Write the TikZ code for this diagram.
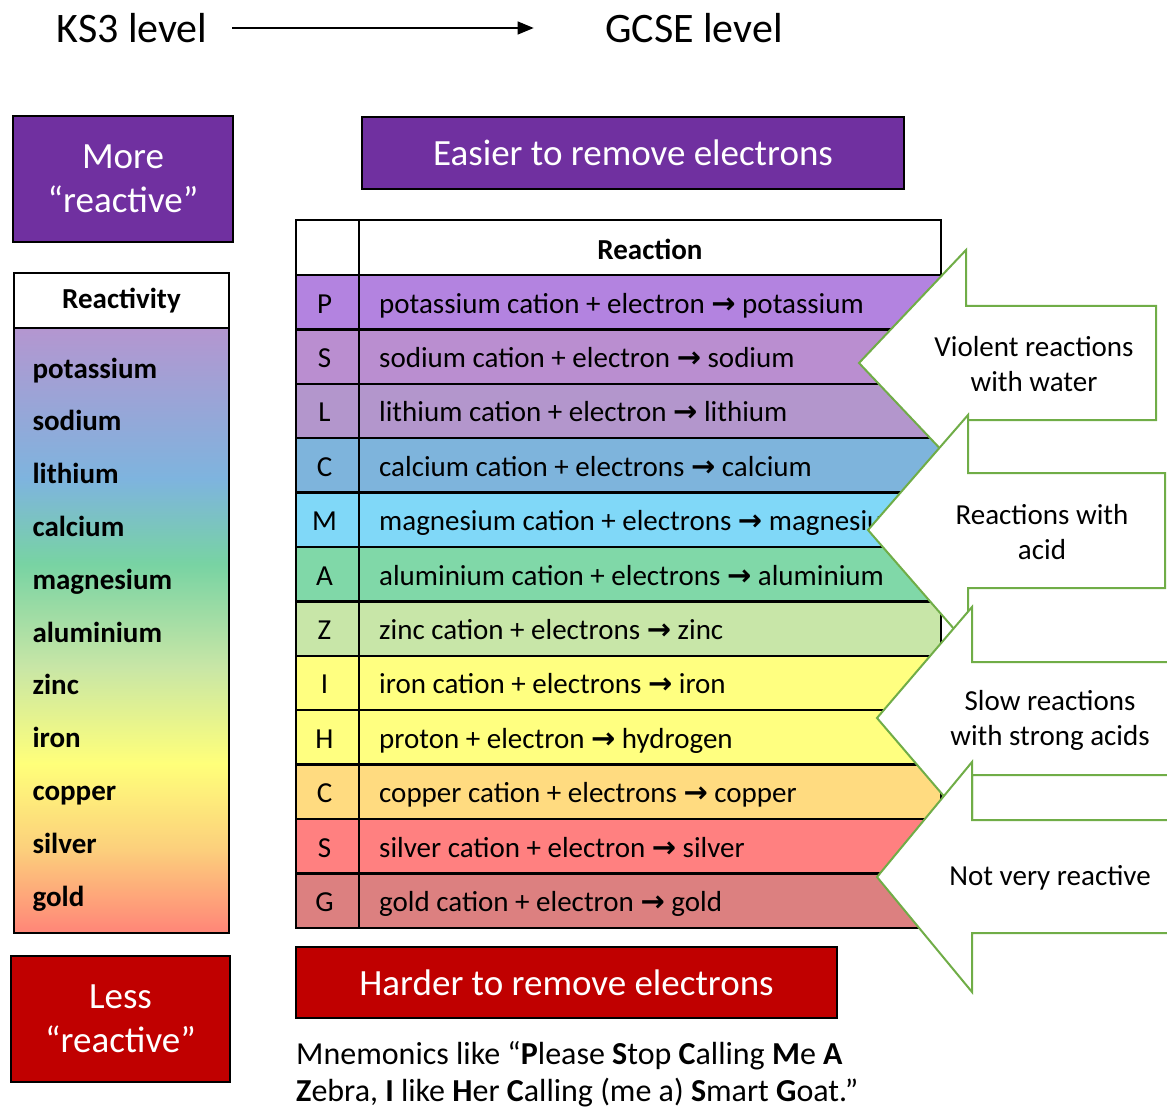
\documentclass[tikz,border=0pt]{standalone}
\usepackage{fontspec}
\setmainfont{Carlito}
\newfontfamily\arrowfont{DejaVu Sans}
\usetikzlibrary{arrows.meta,positioning}

\definecolor{kpurple}{HTML}{7030A0}
\definecolor{kred}{HTML}{C00000}
\definecolor{kgreen}{HTML}{70AD47}
% row colours of the reaction table
\definecolor{rowP}{HTML}{B383E0}
\definecolor{rowS}{HTML}{BA8ED0}
\definecolor{rowL}{HTML}{B396CC}
\definecolor{rowC}{HTML}{7EB4DC}
\definecolor{rowM}{HTML}{80D8F8}
\definecolor{rowA}{HTML}{80D8A8}
\definecolor{rowZ}{HTML}{C8E6A8}
\definecolor{rowI}{HTML}{FFFF80}
\definecolor{rowH}{HTML}{FFFF80}
\definecolor{rowCu}{HTML}{FFDB80}
\definecolor{rowAg}{HTML}{FF8080}
\definecolor{rowG}{HTML}{DC8080}
% gradient of the reactivity column
\definecolor{gLav}{HTML}{B496D0}
\definecolor{gBlue}{HTML}{7EB4DE}
\definecolor{gGreen}{HTML}{78D3A3}
\definecolor{gLight}{HTML}{C8E6A6}
\definecolor{gYellow}{HTML}{FFFF7A}
\definecolor{gOrange}{HTML}{FCD07C}
\definecolor{gSalmon}{HTML}{FF8578}
\pgfdeclareverticalshading{reactivity}{100bp}{color(0bp)=(gSalmon); color(25bp)=(gSalmon); color(32bp)=(gOrange); color(39bp)=(gYellow); color(47bp)=(gLight); color(55.5bp)=(gGreen); color(62.5bp)=(gBlue); color(75bp)=(gLav); color(100bp)=(gLav)}

\newcommand{\rarr}{{\arrowfont\bfseries →}}

\tikzset{
  titlebox/.style={draw=black, line width=2pt, text=white, align=center, font=\fontsize{37}{44}\selectfont},
  callout/.style={draw=kgreen, fill=white, line width=2pt, line join=miter},
  rowtext/.style={font=\fontsize{29}{34}\selectfont, inner sep=0pt},
  calltext/.style={align=center, font=\fontsize{29}{35}\selectfont},
}

\begin{document}
\begin{tikzpicture}[x=1pt, y=-1pt]
\useasboundingbox (0,0) rectangle (1167,1107);

% levels
\node[font=\fontsize{42}{50}\selectfont] (ks3) at (132,28) {KS3 level};
\node[font=\fontsize{42}{50}\selectfont] (gcse) at (694,28) {GCSE level};
\draw[line width=1.2pt, -{Triangle[length=16pt,width=13pt]}, shorten <=21pt, shorten >=68pt] (ks3.east) -- (gcse.west);

% left column
\node[titlebox, fill=kpurple, minimum width=220, minimum height=126] (more) at (123,179) {More\\“reactive”};
\node[draw, line width=2.5pt, minimum width=215, minimum height=55, font=\fontsize{29}{34}\selectfont\bfseries] (reacthead) at (121.5,300.5) {Reactivity};
\shade[shading=reactivity] (14,328) rectangle (229,933);
\draw[line width=2.5pt] (14,328) rectangle (229,933);
\foreach \el [count=\n from 0] in {potassium,sodium,lithium,calcium,magnesium,aluminium,zinc,iron,copper,silver,gold}
  \node[anchor=base west, font=\fontsize{29}{34}\selectfont\bfseries] (el\n) at (29,{378+52.8*\n}) {\el};
\node[titlebox, fill=kred, minimum width=219, minimum height=126] (less) at (120.5,1019) {Less\\“reactive”};

% reaction table
\node[titlebox, fill=kpurple, minimum width=542, minimum height=72] (easier) at (633,153) {Easier to remove electrons};
\foreach \k/\ltr/\col/\txt in {
  0/P/rowP/{potassium cation + electron \rarr{} potassium},
  1/S/rowS/{sodium cation + electron \rarr{} sodium},
  2/L/rowL/{lithium cation + electron \rarr{} lithium},
  3/C/rowC/{calcium cation + electrons \rarr{} calcium},
  4/M/rowM/{magnesium cation + electrons \rarr{} magnesium},
  5/A/rowA/{aluminium cation + electrons \rarr{} aluminium},
  6/Z/rowZ/{zinc cation + electrons \rarr{} zinc},
  7/I/rowI/{iron cation + electrons \rarr{} iron},
  8/H/rowH/{proton + electron \rarr{} hydrogen},
  9/C/rowCu/{copper cation + electrons \rarr{} copper},
  10/S/rowAg/{silver cation + electron \rarr{} silver},
  11/G/rowG/{gold cation + electron \rarr{} gold}}
{
  \fill[\col] (296,{275+54.4*\k}) rectangle (941,{275+54.4*(\k+1)});
  \node[rowtext, anchor=base] (ltr\k) at (324.5,{313+54.4*\k}) {\ltr};
  \node[rowtext, anchor=base west] (eq\k) at (379,{313+54.4*\k}) {\txt};
}
\node[font=\fontsize{29}{34}\selectfont\bfseries] (reachead) at (650,249) {Reaction};
\draw[line width=2.5pt] (296,220) rectangle (941,928) (359,220) -- (359,928);
\foreach \k in {0,...,11}
  \draw[line width=2.5pt] (296,{275+54.4*\k}) -- (941,{275+54.4*\k});
\node[titlebox, fill=kred, minimum width=541, minimum height=71] (harder) at (566.5,982.5) {Harder to remove electrons};

% callouts
\draw[callout] (859,363) -- (966,250) -- (966,306) -- (1156,306) -- (1156,420) -- (966,420) -- (966,476) -- cycle;
\node[calltext] (water) at (1034,364) {Violent reactions\\with water};
\draw[callout] (868,530) -- (968,415) -- (968,473) -- (1165,473) -- (1165,588) -- (968,588) -- (968,645) -- cycle;
\node[calltext] (acid) at (1042,532) {Reactions with\\acid};
\draw[callout] (877,718) -- (972,607) -- (972,662) -- (1185,662) -- (1185,775) -- (972,775) -- (972,829) -- cycle;
\node[calltext] (strong) at (1050,720) {Slow reactions\\with strong acids};
\draw[callout] (877,877) -- (972,762) -- (972,820) -- (1185,820) -- (1185,933) -- (972,933) -- (972,992) -- cycle;
\node[calltext] (notvery) at (1050,878) {Not very reactive};

% mnemonic
\node[anchor=north west, align=left, inner sep=0pt, font=\fontsize{32}{37}\selectfont] (mnemo) at (296,1041) {Mnemonics like “\textbf{P}lease \textbf{S}top \textbf{C}alling \textbf{M}e \textbf{A}\\\textbf{Z}ebra, \textbf{I} like \textbf{H}er \textbf{C}alling (me a) \textbf{S}mart \textbf{G}oat.”};
\end{tikzpicture}
\end{document}
